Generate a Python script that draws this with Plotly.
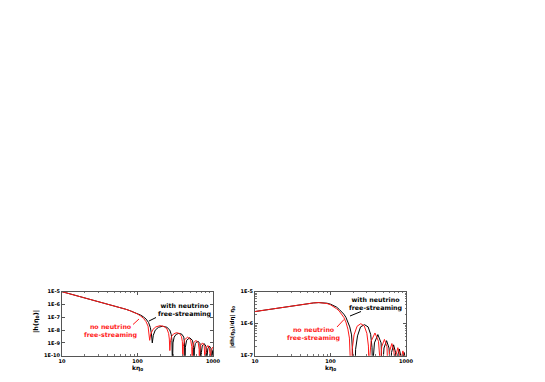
import numpy as np
import plotly.graph_objects as go

# values; y values are log10 of the plotted quantity

# left panel: |h(eta0)|, no neutrino free-streaming (red)
h_nofs_k = [10, 15, 20, 30, 40, 50, 60, 70, 80, 90, 100, 110, 120, 130, 138, 145,
            150, 160, 175, 200, 225, 245, 258, 264, 268,
            272, 282, 300, 330, 360, 382, 393, 400,
            404, 420, 462, 505, 524, 530,
            535, 552, 595, 638, 655, 660,
            666, 685, 725, 765, 784, 790,
            797, 815, 855, 895, 913, 920,
            927, 945, 985, 1025, 1050]
h_nofs_log = [-5.0, -5.28, -5.47, -5.74, -5.94, -6.1, -6.24, -6.37, -6.49, -6.61, -6.74, -6.9, -7.08, -7.35, -7.7, -8.8,
              -8.3, -7.95, -7.75, -7.65, -7.72, -7.9, -8.25, -8.7, -9.6,
              -9.0, -8.5, -8.3, -8.2, -8.27, -8.5, -8.9, -11,
              -9.3, -8.75, -8.55, -8.75, -9.3, -11,
              -9.5, -9.0, -8.8, -9.0, -9.5, -11,
              -9.7, -9.2, -9.0, -9.2, -9.7, -11,
              -9.9, -9.4, -9.2, -9.4, -9.9, -11,
              -10.0, -9.55, -9.35, -9.5, -11]

# left panel: |h(eta0)|, with neutrino free-streaming (black)
h_fs_k = [10, 15, 20, 30, 40, 50, 60, 70, 80, 90, 100, 110, 120, 130, 140, 148, 153, 157,
          162, 172, 190, 215, 245, 268, 280, 286, 290,
          295, 306, 325, 355, 388, 410, 420, 425,
          430, 447, 490, 535, 554, 560,
          566, 583, 627, 672, 689, 695,
          702, 720, 762, 805, 823, 830,
          837, 855, 897, 940, 958, 965,
          972, 990, 1032]
h_fs_log = [-5.0, -5.28, -5.47, -5.74, -5.94, -6.1, -6.24, -6.37, -6.49, -6.6, -6.71, -6.83, -6.97, -7.14, -7.4, -7.8, -8.3, -9.0,
            -8.4, -8.0, -7.78, -7.7, -7.78, -8.0, -8.35, -8.8, -11,
            -9.0, -8.55, -8.33, -8.25, -8.33, -8.55, -9.0, -11,
            -9.35, -8.8, -8.6, -8.8, -9.35, -11,
            -9.55, -9.05, -8.85, -9.05, -9.55, -11,
            -9.75, -9.25, -9.05, -9.25, -9.75, -11,
            -9.95, -9.45, -9.25, -9.45, -9.95, -11,
            -10.1, -9.6, -9.4]

# right panel: |dh/deta| eta0, no neutrino free-streaming (red)
dh_nofs_k = [10, 15, 20, 30, 40, 50, 60, 70, 80, 90, 100, 110, 120, 130, 140, 150, 160, 170, 178, 184, 189,
             194, 205, 225, 252, 280, 303, 318, 326,
             331, 345, 388, 432, 449, 455,
             461, 477, 518, 560, 578, 585,
             592, 608, 650, 692, 708, 715,
             722, 738, 780, 822, 838, 845,
             852, 868, 910, 952, 968, 975,
             982, 998, 1040]
dh_nofs_log = [-5.62, -5.56, -5.51, -5.44, -5.4, -5.37, -5.35, -5.34, -5.35, -5.37, -5.41, -5.46, -5.53, -5.6, -5.69, -5.8, -5.95, -6.17, -6.45, -6.8, -8,
               -6.8, -6.35, -6.08, -6.0, -6.07, -6.3, -6.7, -8,
               -7.05, -6.55, -6.29, -6.55, -7.05, -8,
               -7.2, -6.72, -6.49, -6.72, -7.2, -8,
               -7.3, -6.85, -6.62, -6.85, -7.3, -8,
               -7.4, -6.97, -6.75, -6.97, -7.4, -8,
               -7.5, -7.07, -6.85, -7.07, -7.5, -8,
               -7.6, -7.15, -6.95]

# right panel: |dh/deta| eta0, with neutrino free-streaming (black)
dh_fs_k = [10, 15, 20, 30, 40, 50, 60, 70, 80, 90, 100, 110, 120, 130, 140, 150, 160, 170, 180, 190, 198, 204, 209,
           215, 228, 250, 282, 315, 340, 355, 363,
           368, 382, 424, 468, 483, 489,
           495, 511, 553, 596, 613, 620,
           627, 643, 685, 727, 743, 750,
           757, 773, 815, 857, 873, 880,
           887, 903, 945, 987, 1003, 1010]
dh_fs_log = [-5.62, -5.56, -5.51, -5.44, -5.4, -5.37, -5.35, -5.34, -5.345, -5.36, -5.39, -5.43, -5.48, -5.55, -5.62, -5.7, -5.8, -5.93, -6.1, -6.35, -6.65, -7.0, -8,
             -6.8, -6.38, -6.1, -6.03, -6.1, -6.33, -6.75, -8,
             -7.1, -6.6, -6.34, -6.6, -7.1, -8,
             -7.25, -6.76, -6.53, -6.76, -7.25, -8,
             -7.35, -6.9, -6.66, -6.9, -7.35, -8,
             -7.45, -7.02, -6.79, -7.02, -7.45, -8,
             -7.55, -7.12, -6.9, -7.12, -7.55, -8]

x_ticks = [10, 100, 1000]
x_ticktext = ["10", "100", "1000"]
x_minor = [20, 30, 40, 50, 60, 70, 80, 90, 200, 300, 400, 500, 600, 700, 800, 900]
h_ticks = [1e-10, 1e-9, 1e-8, 1e-7, 1e-6, 1e-5]
h_ticktext = ["1E-10", "1E-9", "1E-8", "1E-7", "1E-6", "1E-5"]
dh_ticks = [1e-7, 1e-6, 1e-5]
dh_ticktext = ["1E-7", "1E-6", "1E-5"]
dh_minor = [2e-7, 3e-7, 4e-7, 5e-7, 6e-7, 7e-7, 8e-7, 9e-7, 2e-6, 3e-6, 4e-6, 5e-6, 6e-6, 7e-6, 8e-6, 9e-6]

FONT = "DejaVu Sans, Liberation Sans, sans-serif"
RED = "#ff1a1a"
W, H = 545, 382
OFF = 8  # the page body adds an 8 px margin around the plot div


def px(x):
    return (x - OFF) / W


def py(y):
    return (H - (y - OFF)) / H


fig = go.Figure()
fig.add_trace(go.Scatter(x=h_fs_k, y=10 ** np.array(h_fs_log), mode="lines",
                         line=dict(color="black", width=1), xaxis="x", yaxis="y"))
fig.add_trace(go.Scatter(x=h_nofs_k, y=10 ** np.array(h_nofs_log), mode="lines",
                         line=dict(color=RED, width=1), xaxis="x", yaxis="y"))
fig.add_trace(go.Scatter(x=dh_fs_k, y=10 ** np.array(dh_fs_log), mode="lines",
                         line=dict(color="black", width=1), xaxis="x2", yaxis="y2"))
fig.add_trace(go.Scatter(x=dh_nofs_k, y=10 ** np.array(dh_nofs_log), mode="lines",
                         line=dict(color=RED, width=1), xaxis="x2", yaxis="y2"))

ydom = [py(355.7), py(291.7)]

axis_common = dict(type="log", showgrid=False, zeroline=False, showline=True, mirror="ticks",
                   linecolor="#555", linewidth=1, ticks="inside", ticklen=3, tickcolor="#555",
                   tickfont=dict(family=FONT, size=5, color="black"), automargin=False)
minor_style = dict(ticks="inside", ticklen=1.5, tickcolor="#777", showgrid=False)

fig.update_layout(
    width=W, height=H, margin=dict(l=0, r=0, t=0, b=0),
    paper_bgcolor="white", plot_bgcolor="white", showlegend=False,
    xaxis=dict(axis_common, domain=[px(62), px(213)], range=[1, 3], anchor="y",
               tickvals=x_ticks, ticktext=["<b>%s</b>" % t for t in x_ticktext],
               minor=dict(minor_style, tickvals=x_minor)),
    yaxis=dict(axis_common, domain=ydom, range=[-10, -5], anchor="x",
               tickvals=h_ticks, ticktext=["<b>%s</b>" % t for t in h_ticktext]),
    xaxis2=dict(axis_common, domain=[px(255), px(406)], range=[1, 3], anchor="y2",
                tickvals=x_ticks, ticktext=["<b>%s</b>" % t for t in x_ticktext],
                minor=dict(minor_style, tickvals=x_minor)),
    yaxis2=dict(axis_common, domain=ydom, range=[-7, -5], anchor="x2",
                tickvals=dh_ticks, ticktext=["<b>%s</b>" % t for t in dh_ticktext],
                minor=dict(minor_style, tickvals=dh_minor)),
)


def note(x, y, text, color="black", size=6.3, angle=0):
    fig.add_annotation(x=px(x), y=py(y), xref="paper", yref="paper", text="<b>%s</b>" % text,
                       xanchor="center", yanchor="middle",
                       showarrow=False, textangle=angle, align="center",
                       font=dict(family=FONT, size=size, color=color))


def pointer(x0, y0, x1, y1, color):
    fig.add_shape(type="line", xref="paper", yref="paper",
                  x0=px(x0), y0=py(y0), x1=px(x1), y1=py(y1),
                  line=dict(color=color, width=1))


# axis titles
note(137, 368, "kη<sub>0</sub>", size=6)
note(330, 368, "kη<sub>0</sub>", size=6)
note(36, 322, "|h(η<sub>0</sub>)|", size=6.5, angle=-90)
note(232, 327, "|dh(η<sub>0</sub>)/dη| η<sub>0</sub>", size=5.5, angle=-90)

# curve labels
note(184, 310, "with neutrino<br>free-streaming")
note(110.5, 331.4, "no neutrino<br>free-streaming", color=RED)
note(375.5, 303.5, "with neutrino<br>free-streaming")
note(313, 334.2, "no neutrino<br>free-streaming", color=RED)
pointer(149, 321, 156, 317.5, "black")
pointer(133, 324.5, 139, 319, RED)
pointer(350, 316, 361, 311.5, "black")
pointer(337, 327, 344, 319.5, RED)

fig.write_html("out.html")
